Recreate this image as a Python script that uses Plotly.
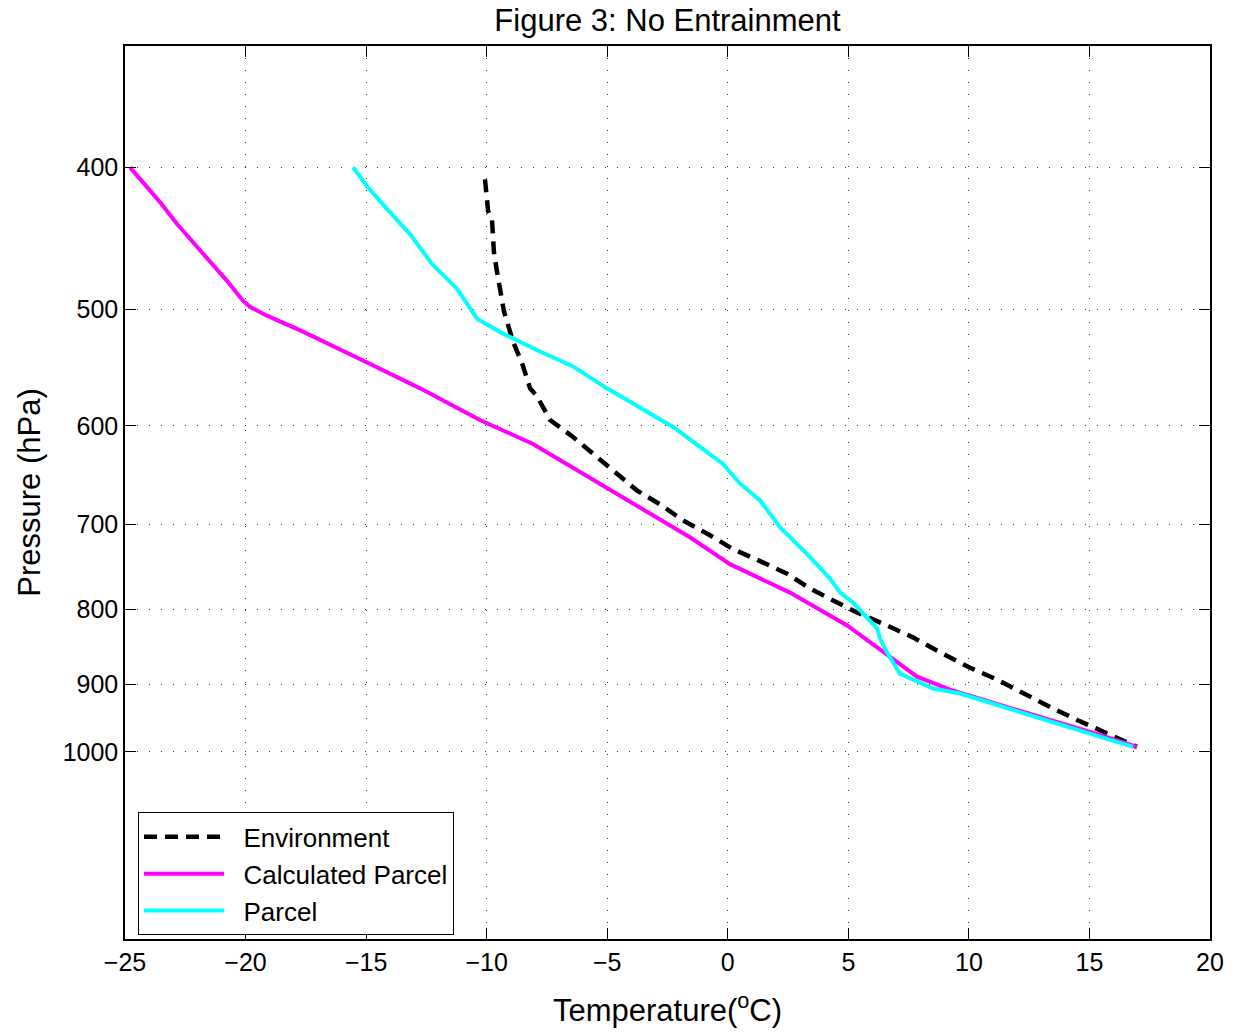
import plotly.graph_objects as go
import math

# ---------------- data ----------------
env_T = [-10.07, -10.03, -9.94, -9.78, -9.74, -9.70, -9.57, -9.49, -9.36, -9.28,
         -9.03, -8.91, -8.53, -8.20, -7.91, -7.37, -6.42, -5.59, -4.59, -3.76,
         -2.81, -1.86, -0.74, 0.22, 1.34, 2.46, 3.41, 4.53, 5.36, 6.60,
         7.68, 8.80, 10.05, 11.17, 12.25, 13.37, 14.49, 15.56, 16.97]
env_P = [407.6, 415.9, 428.4, 433.8, 449.6, 456.7, 471.2, 478.6, 493.8, 501.6,
         517.5, 525.6, 543.9, 565.6, 572.7, 594.4, 610.4, 626.8, 646.7, 663.9,
         678.5, 695.6, 712.1, 727.8, 741.6, 756.3, 774.2, 791.3, 803.8, 820.2,
         835.7, 855.5, 876.5, 893.0, 912.7, 932.2, 951.3, 969.3, 992.2]

calc_T = [-24.79, -23.55, -22.84, -22.10, -21.47, -20.77, -20.11, -19.82, -19.11, -17.62,
          -15.13, -12.76, -10.28, -8.08, -7.54, -5.30, -3.64, -1.57, 0.09, 2.58,
          4.95, 6.44, 7.85, 9.22, 11.29, 13.37, 15.44, 16.97]
calc_P = [400.0, 422.4, 437.2, 451.0, 463.9, 477.9, 493.0, 497.7, 504.7, 517.5,
          541.4, 565.6, 594.4, 617.1, 624.8, 656.8, 681.7, 714.3, 745.1, 779.1,
          820.2, 855.5, 888.8, 907.0, 929.3, 951.3, 973.8, 992.2]

parcel_T = [-15.54, -14.96, -14.13, -13.18, -12.27, -11.23, -10.40, -9.32, -7.79, -6.42,
            -5.01, -3.64, -2.27, -1.15, -0.20, 0.51, 1.34, 2.17, 3.29, 4.24,
            4.66, 5.19, 6.19, 6.31, 6.60, 7.14, 7.68, 8.51, 9.63, 11.29,
            13.37, 15.44, 16.81]
parcel_P = [400.0, 412.0, 427.1, 444.1, 465.3, 483.8, 507.1, 519.1, 533.9, 546.5,
            565.6, 582.5, 600.9, 620.0, 636.7, 656.8, 674.3, 703.3, 733.5, 762.2,
            779.1, 791.3, 824.0, 837.0, 855.5, 884.7, 893.0, 905.6, 912.7, 930.7,
            954.3, 976.9, 992.2]

x_ticks = [-25, -20, -15, -10, -5, 0, 5, 10, 15, 20]
p_ticks = [400, 500, 600, 700, 800, 900, 1000]
p_range = [1341, 330.7]
t_range = [-25, 20]

FONT = "Liberation Sans, Arial, Helvetica, sans-serif"

fig = go.Figure()
fig.add_trace(go.Scatter(x=env_T, y=env_P, mode="lines", name="\u00a0\u00a0Environment",
                         line=dict(color="black", width=4.5, dash="13px,8px")))
fig.add_trace(go.Scatter(x=calc_T, y=calc_P, mode="lines", name="\u00a0\u00a0Calculated Parcel",
                         line=dict(color="#FF00FF", width=4)))
fig.add_trace(go.Scatter(x=parcel_T, y=parcel_P, mode="lines", name="\u00a0\u00a0Parcel",
                         line=dict(color="#00FFFF", width=4)))

fig.update_layout(
    width=1236, height=1034,
    margin=dict(l=125, r=26, t=46, b=91),
    paper_bgcolor="white", plot_bgcolor="white",
    font=dict(family=FONT, color="black", size=25),
    title=dict(text="Figure 3: No Entrainment", x=0.5, xref="paper",
               y=1 - 20 / 1034, yanchor="middle", yref="container",
               font=dict(size=31, color="black", family=FONT)),
    showlegend=True,
    legend=dict(x=0.012, y=0.004, xanchor="left", yanchor="bottom",
                bgcolor="white", bordercolor="black", borderwidth=1,
                font=dict(size=26, family=FONT, color="black"),
                itemwidth=80, tracegroupgap=0),
)

fig.update_xaxes(
    range=t_range, tickvals=x_ticks,
    ticktext=[("\u2212" + str(-v)) if v < 0 else str(v) for v in x_ticks],
    showgrid=True, gridcolor="#333333", gridwidth=1, griddash="1px,11px",
    zeroline=False, showline=True, linecolor="black", linewidth=1.5, mirror="ticks",
    ticks="inside", ticklen=11, tickcolor="black", tickwidth=1,
    tickfont=dict(size=25),
    title=dict(text="Temperature(<sup>o</sup>C)", font=dict(size=31), standoff=25),
)
fig.update_yaxes(
    type="log", range=[math.log10(p_range[0]), math.log10(p_range[1])],
    tickvals=p_ticks, ticktext=[str(v) for v in p_ticks],
    showgrid=True, gridcolor="#333333", gridwidth=1, griddash="1px,11px",
    zeroline=False, showline=True, linecolor="black", linewidth=1.5, mirror="ticks",
    ticks="inside", ticklen=11, tickcolor="black", tickwidth=1,
    tickfont=dict(size=25),
    title=dict(text="Pressure (hPa)", font=dict(size=31), standoff=13),
)

fig.write_html("out.html", config={"displayModeBar": False},
               post_script="document.body.style.margin='0px';")
